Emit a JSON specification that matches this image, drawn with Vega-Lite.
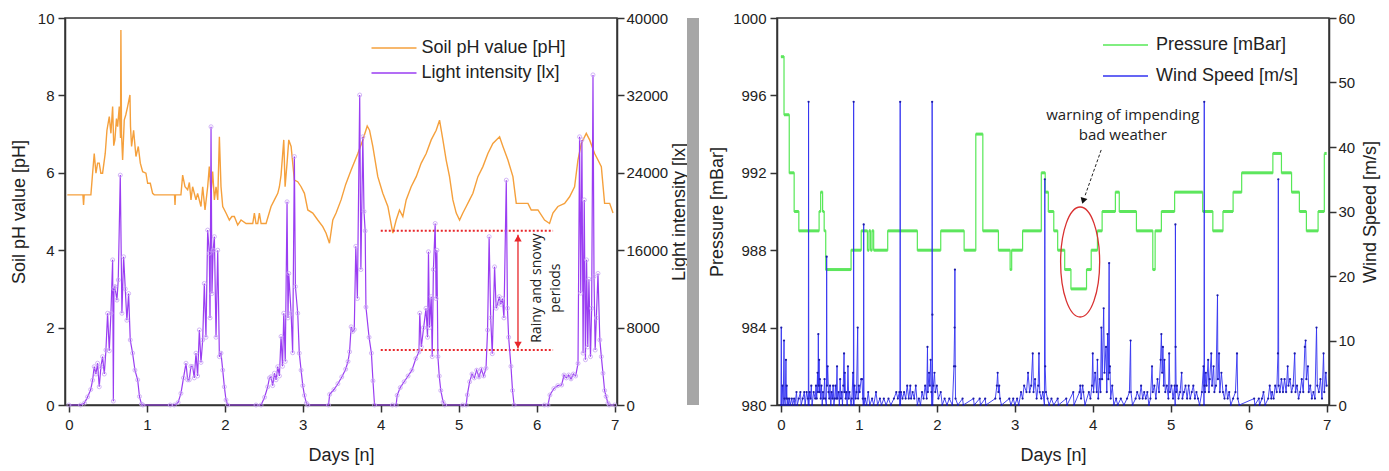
{
  "$schema": "https://vega.github.io/schema/vega-lite/v6.json",
  "background": "white",
  "padding": {"left": 9, "top": 10, "right": 5, "bottom": 5},
  "bounds": "flush",
  "spacing": 70,
  "resolve": {"scale": {"color": "independent", "x": "independent", "y": "independent"}, "legend": {"color": "independent"}},
  "config": {
    "font": "Liberation Sans",
    "view": {"stroke": "#333333", "strokeWidth": 1.5},
    "axis": {"grid": false, "domainColor": "#333333", "domainWidth": 1.5, "tickColor": "#333333", "tickWidth": 1.5, "tickSize": 7, "labelFont": "Liberation Sans", "labelFontSize": 15, "labelColor": "#222222", "titleFont": "Liberation Sans", "titleFontSize": 18, "titleColor": "#222222", "titleFontWeight": "normal", "labelFlush": false, "labelOverlap": false},
    "legend": {"labelFont": "Liberation Sans", "labelFontSize": 18, "labelColor": "#222222", "padding": 0, "symbolStrokeWidth": 1.5, "symbolType": "M-4.5,0H4.5", "symbolSize": 100}
  },
  "hconcat": [
    {
      "width": 552,
      "height": 387,
      "layer": [
        {
          "layer": [
            {
              "data": {"values": [
                {"day":-0.02,"ph":5.43},{"day":0.18,"ph":5.43},{"day":0.188,"ph":5.17},{"day":0.196,"ph":5.43},{"day":0.282,"ph":5.43},{"day":0.304,"ph":5.99},{"day":0.325,"ph":6.5},{"day":0.347,"ph":5.99},{"day":0.368,"ph":6.25},{"day":0.389,"ph":6.25},{"day":0.41,"ph":5.99},{"day":0.432,"ph":5.99},{"day":0.466,"ph":6.5},{"day":0.488,"ph":7.1},{"day":0.518,"ph":7.45},{"day":0.539,"ph":7.02},{"day":0.561,"ph":7.71},{"day":0.575,"ph":6.7},{"day":0.59,"ph":6.85},{"day":0.61,"ph":7.4},{"day":0.625,"ph":7.19},{"day":0.646,"ph":7.71},{"day":0.662,"ph":6.9},{"day":0.667,"ph":9.69},{"day":0.675,"ph":7.0},{"day":0.689,"ph":6.33},{"day":0.71,"ph":7.36},{"day":0.73,"ph":7.5},{"day":0.753,"ph":7.71},{"day":0.783,"ph":8.01},{"day":0.79,"ph":7.2},{"day":0.804,"ph":6.68},{"day":0.83,"ph":7.1},{"day":0.86,"ph":6.42},{"day":0.89,"ph":6.68},{"day":0.916,"ph":6.25},{"day":0.946,"ph":6.03},{"day":0.988,"ph":5.99},{"day":1.01,"ph":5.73},{"day":1.044,"ph":5.73},{"day":1.074,"ph":5.47},{"day":1.095,"ph":5.43},{"day":1.355,"ph":5.43},{"day":1.361,"ph":5.17},{"day":1.367,"ph":5.43},{"day":1.437,"ph":5.43},{"day":1.459,"ph":5.94},{"day":1.489,"ph":5.64},{"day":1.523,"ph":5.56},{"day":1.545,"ph":5.75},{"day":1.566,"ph":5.3},{"day":1.587,"ph":5.64},{"day":1.63,"ph":5.3},{"day":1.651,"ph":5.47},{"day":1.694,"ph":5.13},{"day":1.716,"ph":5.64},{"day":1.746,"ph":5.04},{"day":1.78,"ph":5.64},{"day":1.801,"ph":6.16},{"day":1.823,"ph":5.47},{"day":1.844,"ph":6.03},{"day":1.866,"ph":5.3},{"day":1.887,"ph":5.64},{"day":1.909,"ph":5.3},{"day":1.93,"ph":6.93},{"day":1.951,"ph":5.64},{"day":1.973,"ph":5.13},{"day":2.015,"ph":4.96},{"day":2.058,"ph":4.78},{"day":2.09,"ph":4.87},{"day":2.122,"ph":4.87},{"day":2.165,"ph":4.65},{"day":2.208,"ph":4.78},{"day":2.272,"ph":4.69},{"day":2.358,"ph":4.69},{"day":2.379,"ph":4.96},{"day":2.4,"ph":4.69},{"day":2.422,"ph":4.69},{"day":2.443,"ph":4.96},{"day":2.465,"ph":4.69},{"day":2.529,"ph":4.69},{"day":2.593,"ph":5.13},{"day":2.636,"ph":5.3},{"day":2.679,"ph":5.47},{"day":2.7,"ph":5.64},{"day":2.721,"ph":5.94},{"day":2.756,"ph":6.85},{"day":2.773,"ph":5.64},{"day":2.798,"ph":6.25},{"day":2.82,"ph":6.85},{"day":2.85,"ph":6.68},{"day":2.892,"ph":5.81},{"day":2.935,"ph":5.77},{"day":2.978,"ph":5.64},{"day":3.021,"ph":5.47},{"day":3.064,"ph":5.04},{"day":3.128,"ph":4.96},{"day":3.192,"ph":4.78},{"day":3.256,"ph":4.61},{"day":3.299,"ph":4.44},{"day":3.342,"ph":4.18},{"day":3.385,"ph":4.78},{"day":3.427,"ph":4.96},{"day":3.491,"ph":5.3},{"day":3.55,"ph":5.7},{"day":3.62,"ph":6.07},{"day":3.706,"ph":6.5},{"day":3.77,"ph":6.85},{"day":3.826,"ph":7.21},{"day":3.856,"ph":7.1},{"day":3.898,"ph":6.68},{"day":3.962,"ph":5.9},{"day":4.026,"ph":5.47},{"day":4.091,"ph":5.13},{"day":4.155,"ph":4.44},{"day":4.198,"ph":4.78},{"day":4.24,"ph":5.04},{"day":4.283,"ph":4.87},{"day":4.326,"ph":5.3},{"day":4.39,"ph":5.64},{"day":4.455,"ph":5.9},{"day":4.519,"ph":6.25},{"day":4.583,"ph":6.5},{"day":4.647,"ph":6.85},{"day":4.711,"ph":7.1},{"day":4.754,"ph":7.36},{"day":4.797,"ph":6.85},{"day":4.839,"ph":6.33},{"day":4.882,"ph":5.9},{"day":4.925,"ph":5.3},{"day":4.968,"ph":4.96},{"day":5.011,"ph":4.78},{"day":5.053,"ph":4.96},{"day":5.096,"ph":5.13},{"day":5.139,"ph":5.3},{"day":5.182,"ph":5.47},{"day":5.246,"ph":5.9},{"day":5.31,"ph":6.16},{"day":5.374,"ph":6.5},{"day":5.438,"ph":6.76},{"day":5.524,"ph":6.93},{"day":5.567,"ph":6.68},{"day":5.631,"ph":6.33},{"day":5.695,"ph":5.9},{"day":5.738,"ph":5.21},{"day":5.888,"ph":5.21},{"day":5.93,"ph":5.04},{"day":6.016,"ph":5.04},{"day":6.101,"ph":4.78},{"day":6.165,"ph":4.69},{"day":6.208,"ph":4.96},{"day":6.272,"ph":5.13},{"day":6.358,"ph":5.21},{"day":6.422,"ph":5.38},{"day":6.486,"ph":5.64},{"day":6.529,"ph":6.33},{"day":6.572,"ph":6.76},{"day":6.636,"ph":7.02},{"day":6.679,"ph":6.85},{"day":6.743,"ph":6.5},{"day":6.786,"ph":6.33},{"day":6.829,"ph":6.16},{"day":6.871,"ph":5.21},{"day":6.936,"ph":5.21},{"day":6.979,"ph":4.96}
              ]},
              "mark": {"type": "line", "strokeWidth": 1.4},
              "encoding": {
                "x": {"field": "day", "type": "quantitative", "scale": {"domain": [-0.05, 7.03], "nice": false, "zero": false},
                      "axis": {"title": "Days [n]", "values": [0,0.5,1,1.5,2,2.5,3,3.5,4,4.5,5,5.5,6,6.5,7], "format": "d", "labelExpr": "datum.value % 1 === 0 ? datum.label : ''", "labelPadding": 5, "titlePadding": 14}},
                "y": {"field": "ph", "type": "quantitative", "scale": {"domain": [0, 10], "nice": false},
                      "axis": {"orient": "left", "title": "Soil pH value [pH]", "values": [0,1,2,3,4,5,6,7,8,9,10], "labelExpr": "datum.value % 2 === 0 ? datum.label : ''", "labelPadding": 4, "titlePadding": 9}},
                "color": {"datum": "Soil pH value [pH]", "type": "nominal",
                          "scale": {"domain": ["Soil pH value [pH]", "Light intensity [lx]"], "range": ["#f5a03c", "#9a3df2"]},
                          "legend": {"orient": "none", "legendX": 320, "legendY": 21, "title": null, "labelOffset": 18.5, "rowPadding": 7}}
              }
            },
            {
              "data": {"values": [{}]},
              "mark": {"type": "rule", "color": "#e8262a", "strokeWidth": 2, "strokeDash": [2, 2]},
              "encoding": {"x": {"datum": 4.0}, "x2": {"datum": 6.21}, "y": {"datum": 4.5}}
            },
            {
              "data": {"values": [{}]},
              "mark": {"type": "rule", "color": "#e8262a", "strokeWidth": 2, "strokeDash": [2, 2]},
              "encoding": {"x": {"datum": 4.0}, "x2": {"datum": 6.21}, "y": {"datum": 1.42}}
            },
            {
              "data": {"values": [{}]},
              "mark": {"type": "rule", "color": "#e8262a", "strokeWidth": 1.3},
              "encoding": {"x": {"datum": 5.76}, "y": {"datum": 4.4}, "y2": {"datum": 1.46}}
            },
            {
              "data": {"values": [{}]},
              "mark": {"type": "point", "shape": "triangle-up", "filled": true, "color": "#e8262a", "size": 55, "opacity": 1},
              "encoding": {"x": {"datum": 5.76}, "y": {"datum": 4.31}}
            },
            {
              "data": {"values": [{}]},
              "mark": {"type": "point", "shape": "triangle-down", "filled": true, "color": "#e8262a", "size": 55, "opacity": 1},
              "encoding": {"x": {"datum": 5.76}, "y": {"datum": 1.55}}
            },
            {
              "data": {"values": [{}]},
              "mark": {"type": "text", "text": ["Rainy and snowy", "periods"], "font": "Open Sans", "fontSize": 14, "lineHeight": 19, "angle": 270, "align": "center", "baseline": "middle", "color": "#222222"},
              "encoding": {"x": {"datum": 6.0}, "y": {"datum": 3.02}}
            }
          ]
        },
        {
          "data": {"values": [
            {"day":0.0,"lux":0},{"day":0.15,"lux":0},{"day":0.2,"lux":200},{"day":0.24,"lux":840},{"day":0.28,"lux":1600},{"day":0.304,"lux":2560},{"day":0.325,"lux":3960},{"day":0.347,"lux":3200},{"day":0.368,"lux":4320},{"day":0.389,"lux":1880},{"day":0.411,"lux":3960},{"day":0.432,"lux":5000},{"day":0.454,"lux":3200},{"day":0.475,"lux":5680},{"day":0.496,"lux":9480},{"day":0.518,"lux":5600},{"day":0.539,"lux":9480},{"day":0.561,"lux":15000},{"day":0.57,"lux":400},{"day":0.578,"lux":12000},{"day":0.59,"lux":12240},{"day":0.616,"lux":10840},{"day":0.633,"lux":12920},{"day":0.659,"lux":23760},{"day":0.68,"lux":9480},{"day":0.702,"lux":15320},{"day":0.723,"lux":12000},{"day":0.744,"lux":8760},{"day":0.766,"lux":11520},{"day":0.787,"lux":6720},{"day":0.817,"lux":5360},{"day":0.847,"lux":3600},{"day":0.882,"lux":2600},{"day":0.905,"lux":880},{"day":0.93,"lux":100},{"day":0.95,"lux":0},
            {"day":1.3,"lux":0},{"day":1.352,"lux":0},{"day":1.4,"lux":250},{"day":1.437,"lux":1200},{"day":1.47,"lux":2800},{"day":1.502,"lux":4320},{"day":1.523,"lux":2600},{"day":1.544,"lux":2600},{"day":1.565,"lux":4000},{"day":1.587,"lux":3960},{"day":1.608,"lux":2800},{"day":1.63,"lux":5360},{"day":1.651,"lux":3000},{"day":1.673,"lux":7760},{"day":1.694,"lux":4400},{"day":1.716,"lux":6720},{"day":1.737,"lux":12560},{"day":1.758,"lux":7000},{"day":1.78,"lux":18080},{"day":1.801,"lux":15680},{"day":1.81,"lux":9000},{"day":1.823,"lux":28760},{"day":1.835,"lux":11520},{"day":1.85,"lux":16000},{"day":1.866,"lux":17400},{"day":1.887,"lux":7000},{"day":1.909,"lux":16000},{"day":1.93,"lux":5000},{"day":1.951,"lux":5360},{"day":1.973,"lux":3600},{"day":1.994,"lux":1880},{"day":2.015,"lux":520},{"day":2.036,"lux":0},
            {"day":2.4,"lux":0},{"day":2.465,"lux":0},{"day":2.51,"lux":800},{"day":2.55,"lux":1880},{"day":2.572,"lux":2800},{"day":2.593,"lux":2920},{"day":2.614,"lux":2000},{"day":2.636,"lux":3280},{"day":2.657,"lux":2600},{"day":2.679,"lux":3960},{"day":2.7,"lux":3000},{"day":2.721,"lux":7080},{"day":2.74,"lux":4000},{"day":2.756,"lux":9480},{"day":2.775,"lux":4500},{"day":2.798,"lux":21000},{"day":2.81,"lux":9000},{"day":2.82,"lux":13600},{"day":2.85,"lux":9480},{"day":2.87,"lux":5400},{"day":2.892,"lux":25680},{"day":2.905,"lux":12240},{"day":2.935,"lux":9480},{"day":2.955,"lux":5360},{"day":2.978,"lux":3600},{"day":3.0,"lux":2000},{"day":3.021,"lux":1000},{"day":3.045,"lux":200},{"day":3.064,"lux":0},
            {"day":3.33,"lux":0},{"day":3.345,"lux":1100},{"day":3.4,"lux":1600},{"day":3.45,"lux":2200},{"day":3.5,"lux":2900},{"day":3.55,"lux":3700},{"day":3.58,"lux":4500},{"day":3.6,"lux":5500},{"day":3.62,"lux":8080},{"day":3.64,"lux":7600},{"day":3.66,"lux":7800},{"day":3.68,"lux":16400},{"day":3.7,"lux":11000},{"day":3.73,"lux":32040},{"day":3.745,"lux":14000},{"day":3.77,"lux":27720},{"day":3.785,"lux":20000},{"day":3.8,"lux":18000},{"day":3.81,"lux":10120},{"day":3.85,"lux":7000},{"day":3.88,"lux":5360},{"day":3.9,"lux":2500},{"day":3.92,"lux":0},
            {"day":4.15,"lux":0},{"day":4.198,"lux":0},{"day":4.21,"lux":1000},{"day":4.25,"lux":1800},{"day":4.3,"lux":2400},{"day":4.35,"lux":3000},{"day":4.4,"lux":3600},{"day":4.45,"lux":4800},{"day":4.49,"lux":5480},{"day":4.5,"lux":9500},{"day":4.52,"lux":6000},{"day":4.55,"lux":8000},{"day":4.58,"lux":10000},{"day":4.6,"lux":7000},{"day":4.612,"lux":15840},{"day":4.625,"lux":8000},{"day":4.647,"lux":11200},{"day":4.66,"lux":5000},{"day":4.675,"lux":14000},{"day":4.698,"lux":18760},{"day":4.71,"lux":11000},{"day":4.72,"lux":16000},{"day":4.733,"lux":5000},{"day":4.75,"lux":3000},{"day":4.77,"lux":1500},{"day":4.8,"lux":300},{"day":4.82,"lux":0},
            {"day":5.05,"lux":0},{"day":5.096,"lux":0},{"day":5.11,"lux":1040},{"day":5.14,"lux":2400},{"day":5.17,"lux":3200},{"day":5.2,"lux":2800},{"day":5.23,"lux":3600},{"day":5.26,"lux":2900},{"day":5.29,"lux":3700},{"day":5.32,"lux":3000},{"day":5.35,"lux":3800},{"day":5.37,"lux":7750},{"day":5.39,"lux":17400},{"day":5.41,"lux":9000},{"day":5.43,"lux":5300},{"day":5.46,"lux":14280},{"day":5.48,"lux":10000},{"day":5.5,"lux":10500},{"day":5.52,"lux":11200},{"day":5.54,"lux":10400},{"day":5.56,"lux":11000},{"day":5.58,"lux":9000},{"day":5.61,"lux":23240},{"day":5.625,"lux":10000},{"day":5.64,"lux":7000},{"day":5.67,"lux":4000},{"day":5.69,"lux":1500},{"day":5.71,"lux":0},
            {"day":6.1,"lux":0},{"day":6.145,"lux":0},{"day":6.17,"lux":1040},{"day":6.22,"lux":1700},{"day":6.27,"lux":2000},{"day":6.32,"lux":2070},{"day":6.35,"lux":3100},{"day":6.38,"lux":2800},{"day":6.41,"lux":3100},{"day":6.44,"lux":2700},{"day":6.47,"lux":3200},{"day":6.5,"lux":3000},{"day":6.53,"lux":4300},{"day":6.55,"lux":27720},{"day":6.565,"lux":11560},{"day":6.58,"lux":27400},{"day":6.595,"lux":5360},{"day":6.61,"lux":21200},{"day":6.625,"lux":4680},{"day":6.64,"lux":15000},{"day":6.655,"lux":6000},{"day":6.67,"lux":13000},{"day":6.69,"lux":5000},{"day":6.705,"lux":10000},{"day":6.722,"lux":34120},{"day":6.735,"lux":13280},{"day":6.75,"lux":5680},{"day":6.765,"lux":9000},{"day":6.786,"lux":13600},{"day":6.81,"lux":6720},{"day":6.829,"lux":5000},{"day":6.85,"lux":3280},{"day":6.871,"lux":1500},{"day":6.89,"lux":880},{"day":6.914,"lux":200},{"day":6.93,"lux":0},{"day":7.0,"lux":0}
          ]},
          "layer": [
            {
              "mark": {"type": "line", "strokeWidth": 1.2},
              "encoding": {
                "x": {"field": "day", "type": "quantitative"},
                "y": {"field": "lux", "type": "quantitative", "scale": {"domain": [0, 40000], "nice": false},
                      "axis": {"orient": "right", "title": "Light intensity [lx]", "values": [0,4000,8000,12000,16000,20000,24000,28000,32000,36000,40000], "format": "d", "labelExpr": "datum.value % 8000 === 0 ? datum.label : ''", "labelPadding": 2, "titlePadding": 3, "titleAngle": -90, "titleBaseline": "top"}},
                "color": {"datum": "Light intensity [lx]", "type": "nominal"}
              }
            },
            {
              "mark": {"type": "point", "filled": false, "size": 16, "strokeWidth": 0.9, "color": "#c9a6f5", "opacity": 0.9},
              "encoding": {
                "x": {"field": "day", "type": "quantitative"},
                "y": {"field": "lux", "type": "quantitative"}
              }
            }
          ]
        }
      ],
      "resolve": {"scale": {"y": "independent"}}
    },
    {
      "bounds": "flush",
      "spacing": 78,
      "resolve": {"scale": {"color": "independent", "x": "independent", "y": "independent"}, "legend": {"color": "independent"}},
      "hconcat": [
        {
          "width": 12,
          "height": 387,
          "data": {"values": [{}]},
          "mark": {"type": "text"},
          "encoding": {"text": {"value": ""}},
          "view": {"fill": "#a6a6a6", "stroke": null}
        },
        {
          "width": 552,
          "height": 387,
          "layer": [
            {
              "layer": [
                {
                  "data": {"values": [
                    {"t0":0,"t1":0.04,"p":998},{"t0":0.04,"t1":0.107,"p":995},{"t0":0.107,"t1":0.17,"p":992},{"t0":0.17,"t1":0.23,"p":990},{"t0":0.23,"t1":0.49,"p":989},{"t0":0.49,"t1":0.51,"p":990},{"t0":0.51,"t1":0.535,"p":991},{"t0":0.535,"t1":0.555,"p":990},{"t0":0.555,"t1":0.575,"p":989},{"t0":0.575,"t1":0.9,"p":987},{"t0":0.9,"t1":1.03,"p":988},{"t0":1.03,"t1":1.11,"p":989},{"t0":1.11,"t1":1.13,"p":988},{"t0":1.13,"t1":1.15,"p":989},{"t0":1.15,"t1":1.17,"p":988},{"t0":1.17,"t1":1.19,"p":989},{"t0":1.19,"t1":1.37,"p":988},{"t0":1.37,"t1":1.75,"p":989},{"t0":1.75,"t1":2.05,"p":988},{"t0":2.05,"t1":2.35,"p":989},{"t0":2.35,"t1":2.5,"p":988},{"t0":2.5,"t1":2.59,"p":994},{"t0":2.59,"t1":2.79,"p":989},{"t0":2.79,"t1":2.94,"p":988},{"t0":2.94,"t1":2.96,"p":987},{"t0":2.96,"t1":3.1,"p":988},{"t0":3.1,"t1":3.34,"p":989},{"t0":3.34,"t1":3.39,"p":992},{"t0":3.39,"t1":3.43,"p":991},{"t0":3.43,"t1":3.5,"p":990},{"t0":3.5,"t1":3.55,"p":989},{"t0":3.55,"t1":3.64,"p":988},{"t0":3.64,"t1":3.72,"p":987},{"t0":3.72,"t1":3.92,"p":986},{"t0":3.92,"t1":3.98,"p":987},{"t0":3.98,"t1":4.06,"p":988},{"t0":4.06,"t1":4.12,"p":989},{"t0":4.12,"t1":4.29,"p":990},{"t0":4.29,"t1":4.34,"p":991},{"t0":4.34,"t1":4.56,"p":990},{"t0":4.56,"t1":4.77,"p":989},{"t0":4.77,"t1":4.8,"p":987},{"t0":4.8,"t1":4.88,"p":989},{"t0":4.88,"t1":5.05,"p":990},{"t0":5.05,"t1":5.41,"p":991},{"t0":5.41,"t1":5.54,"p":990},{"t0":5.54,"t1":5.67,"p":989},{"t0":5.67,"t1":5.8,"p":990},{"t0":5.8,"t1":5.91,"p":991},{"t0":5.91,"t1":6.31,"p":992},{"t0":6.31,"t1":6.42,"p":993},{"t0":6.42,"t1":6.55,"p":992},{"t0":6.55,"t1":6.65,"p":991},{"t0":6.65,"t1":6.74,"p":990},{"t0":6.74,"t1":6.89,"p":989},{"t0":6.89,"t1":6.97,"p":990},{"t0":6.97,"t1":7.0,"p":993}
                  ]},
                  "layer": [
                    {
                      "mark": {"type": "line", "interpolate": "step-after", "strokeWidth": 1.2},
                      "encoding": {
                        "x": {"field": "t0", "type": "quantitative", "scale": {"domain": [-0.05, 7.03], "nice": false, "zero": false},
                              "axis": {"title": "Days [n]", "values": [0,0.5,1,1.5,2,2.5,3,3.5,4,4.5,5,5.5,6,6.5,7], "format": "d", "labelExpr": "datum.value % 1 === 0 ? datum.label : ''", "labelPadding": 5, "titlePadding": 14}},
                        "y": {"field": "p", "type": "quantitative", "scale": {"domain": [980, 1000], "nice": false, "zero": false},
                              "axis": {"orient": "left", "title": "Pressure [mBar]", "values": [980,982,984,986,988,990,992,994,996,998,1000], "format": "d", "labelExpr": "(datum.value - 980) % 4 === 0 ? datum.label : ''", "labelPadding": 4, "titlePadding": 6}},
                        "color": {"datum": "Pressure [mBar]", "type": "nominal",
                                  "scale": {"domain": ["Pressure [mBar]", "Wind Speed [m/s]"], "range": ["#57e857", "#3232f0"]},
                                  "legend": {"orient": "none", "legendX": 339.5, "legendY": 18, "title": null, "labelOffset": 21.5, "rowPadding": 13}}
                      }
                    },
                    {
                      "mark": {"type": "rule", "strokeWidth": 3, "color": "#5de65d"},
                      "encoding": {
                        "x": {"field": "t0", "type": "quantitative"},
                        "x2": {"field": "t1"},
                        "y": {"field": "p", "type": "quantitative"}
                      }
                    }
                  ]
                },
                {
                  "data": {"values": [{}]},
                  "mark": {"type": "point", "shape": "M0,-1A0.355,1 0 1 1 0,1A0.355,1 0 1 1 0,-1Z", "filled": false, "size": 12100, "color": "#d93030", "strokeWidth": 1.3, "opacity": 1},
                  "encoding": {"x": {"datum": 3.838}, "y": {"datum": 987.39}}
                },
                {
                  "data": {"values": [{}]},
                  "mark": {"type": "rule", "color": "#222222", "strokeWidth": 1, "strokeDash": [3, 2]},
                  "encoding": {"x": {"datum": 4.108}, "y": {"datum": 993.18}, "x2": {"datum": 3.895}, "y2": {"datum": 990.75}}
                },
                {
                  "data": {"values": [{}]},
                  "mark": {"type": "point", "shape": "triangle-down", "filled": true, "color": "#111111", "size": 50, "angle": 17, "opacity": 1},
                  "encoding": {"x": {"datum": 3.877}, "y": {"datum": 990.55}}
                },
                {
                  "data": {"values": [{}]},
                  "mark": {"type": "text", "text": ["warning of impending", "bad weather"], "font": "Open Sans", "fontSize": 15, "lineHeight": 20, "align": "center", "baseline": "middle", "color": "#222222"},
                  "encoding": {"x": {"datum": 4.385}, "y": {"datum": 995.0}}
                }
              ]
            },
            {
              "data": {"values": [
                {"day":0,"wind":0},{"day":0.005,"wind":12},{"day":0.01,"wind":0},{"day":0.02,"wind":3},{"day":0.03,"wind":0},{"day":0.04,"wind":10},{"day":0.045,"wind":1},{"day":0.055,"wind":0},{"day":0.065,"wind":7},{"day":0.07,"wind":1},{"day":0.075,"wind":3},{"day":0.08,"wind":0},{"day":0.09,"wind":1},{"day":0.1,"wind":0},{"day":0.11,"wind":1},{"day":0.12,"wind":0},{"day":0.14,"wind":1},{"day":0.15,"wind":0},{"day":0.17,"wind":1},{"day":0.18,"wind":0},{"day":0.2,"wind":2},{"day":0.21,"wind":0},{"day":0.23,"wind":1},{"day":0.25,"wind":2},{"day":0.26,"wind":0},{"day":0.28,"wind":1},{"day":0.3,"wind":2},{"day":0.31,"wind":0},{"day":0.33,"wind":2},{"day":0.345,"wind":1},{"day":0.352,"wind":0},{"day":0.355,"wind":47},{"day":0.358,"wind":0},{"day":0.37,"wind":2},{"day":0.38,"wind":1},{"day":0.39,"wind":3},{"day":0.4,"wind":0},{"day":0.42,"wind":2},{"day":0.44,"wind":1},{"day":0.45,"wind":3},{"day":0.46,"wind":1},{"day":0.47,"wind":5},{"day":0.475,"wind":2},{"day":0.48,"wind":11},{"day":0.485,"wind":3},{"day":0.49,"wind":7},{"day":0.495,"wind":2},{"day":0.5,"wind":4},{"day":0.51,"wind":1},{"day":0.52,"wind":3},{"day":0.53,"wind":0},{"day":0.54,"wind":2},{"day":0.55,"wind":1},{"day":0.56,"wind":4},{"day":0.57,"wind":1},{"day":0.583,"wind":0},{"day":0.587,"wind":23},{"day":0.591,"wind":3},{"day":0.6,"wind":6},{"day":0.61,"wind":2},{"day":0.62,"wind":1},{"day":0.63,"wind":3},{"day":0.64,"wind":0},{"day":0.65,"wind":2},{"day":0.66,"wind":1},{"day":0.67,"wind":3},{"day":0.68,"wind":0},{"day":0.69,"wind":1},{"day":0.7,"wind":3},{"day":0.71,"wind":1},{"day":0.72,"wind":6},{"day":0.725,"wind":1},{"day":0.74,"wind":2},{"day":0.75,"wind":0},{"day":0.76,"wind":4},{"day":0.77,"wind":1},{"day":0.78,"wind":2},{"day":0.79,"wind":0},{"day":0.8,"wind":3},{"day":0.81,"wind":8},{"day":0.815,"wind":2},{"day":0.82,"wind":5},{"day":0.83,"wind":1},{"day":0.84,"wind":2},{"day":0.85,"wind":0},{"day":0.86,"wind":6},{"day":0.87,"wind":1},{"day":0.88,"wind":2},{"day":0.9,"wind":0},{"day":0.91,"wind":1},{"day":0.925,"wind":5},{"day":0.93,"wind":0},{"day":0.933,"wind":47},{"day":0.936,"wind":0},{"day":0.945,"wind":3},{"day":0.96,"wind":1},{"day":0.97,"wind":2},{"day":0.985,"wind":12},{"day":0.99,"wind":1},{"day":1.0,"wind":3},{"day":1.01,"wind":2},{"day":1.03,"wind":4},{"day":1.04,"wind":4},{"day":1.05,"wind":1},{"day":1.058,"wind":0},{"day":1.062,"wind":28},{"day":1.066,"wind":0},{"day":1.08,"wind":1},{"day":1.1,"wind":0},{"day":1.12,"wind":2},{"day":1.14,"wind":0},{"day":1.17,"wind":1},{"day":1.19,"wind":0},{"day":1.22,"wind":2},{"day":1.24,"wind":0},{"day":1.27,"wind":1},{"day":1.29,"wind":0},{"day":1.32,"wind":1},{"day":1.35,"wind":0},{"day":1.38,"wind":1},{"day":1.41,"wind":0},{"day":1.45,"wind":1},{"day":1.48,"wind":2},{"day":1.5,"wind":1},{"day":1.52,"wind":2},{"day":1.527,"wind":0},{"day":1.53,"wind":47},{"day":1.533,"wind":0},{"day":1.54,"wind":2},{"day":1.56,"wind":1},{"day":1.58,"wind":2},{"day":1.6,"wind":1},{"day":1.62,"wind":3},{"day":1.64,"wind":1},{"day":1.66,"wind":3},{"day":1.67,"wind":1},{"day":1.69,"wind":2},{"day":1.71,"wind":1},{"day":1.73,"wind":3},{"day":1.75,"wind":0},{"day":1.77,"wind":1},{"day":1.79,"wind":0},{"day":1.81,"wind":2},{"day":1.83,"wind":1},{"day":1.85,"wind":3},{"day":1.87,"wind":1},{"day":1.88,"wind":9},{"day":1.885,"wind":2},{"day":1.9,"wind":5},{"day":1.91,"wind":3},{"day":1.92,"wind":7},{"day":1.93,"wind":2},{"day":1.937,"wind":0},{"day":1.94,"wind":47},{"day":1.943,"wind":14},{"day":1.946,"wind":0},{"day":1.955,"wind":3},{"day":1.97,"wind":5},{"day":1.98,"wind":2},{"day":2.0,"wind":3},{"day":2.02,"wind":1},{"day":2.05,"wind":2},{"day":2.07,"wind":0},{"day":2.1,"wind":1},{"day":2.13,"wind":0},{"day":2.16,"wind":1},{"day":2.2,"wind":0},{"day":2.22,"wind":6},{"day":2.228,"wind":12},{"day":2.232,"wind":21},{"day":2.236,"wind":6},{"day":2.24,"wind":1},{"day":2.27,"wind":0},{"day":2.33,"wind":1},{"day":2.34,"wind":0},{"day":2.47,"wind":1},{"day":2.48,"wind":0},{"day":2.55,"wind":1},{"day":2.56,"wind":0},{"day":2.62,"wind":1},{"day":2.63,"wind":0},{"day":2.75,"wind":1},{"day":2.77,"wind":3},{"day":2.78,"wind":5},{"day":2.79,"wind":2},{"day":2.8,"wind":3},{"day":2.81,"wind":1},{"day":2.83,"wind":0},{"day":2.93,"wind":1},{"day":2.95,"wind":0},{"day":2.98,"wind":1},{"day":3.0,"wind":0},{"day":3.03,"wind":1},{"day":3.05,"wind":0},{"day":3.08,"wind":2},{"day":3.1,"wind":1},{"day":3.12,"wind":3},{"day":3.15,"wind":2},{"day":3.17,"wind":5},{"day":3.19,"wind":2},{"day":3.21,"wind":3},{"day":3.23,"wind":8},{"day":3.24,"wind":2},{"day":3.26,"wind":4},{"day":3.28,"wind":1},{"day":3.3,"wind":3},{"day":3.31,"wind":8},{"day":3.32,"wind":2},{"day":3.34,"wind":1},{"day":3.36,"wind":2},{"day":3.38,"wind":0},{"day":3.385,"wind":35},{"day":3.39,"wind":6},{"day":3.4,"wind":2},{"day":3.42,"wind":1},{"day":3.44,"wind":0},{"day":3.47,"wind":1},{"day":3.5,"wind":0},{"day":3.55,"wind":1},{"day":3.56,"wind":0},{"day":3.66,"wind":1},{"day":3.67,"wind":0},{"day":3.75,"wind":2},{"day":3.76,"wind":0},{"day":3.83,"wind":2},{"day":3.84,"wind":3},{"day":3.85,"wind":1},{"day":3.87,"wind":3},{"day":3.88,"wind":2},{"day":3.9,"wind":0},{"day":3.95,"wind":2},{"day":3.97,"wind":1},{"day":3.99,"wind":3},{"day":4.0,"wind":8},{"day":4.01,"wind":2},{"day":4.03,"wind":5},{"day":4.05,"wind":2},{"day":4.06,"wind":7},{"day":4.07,"wind":1},{"day":4.09,"wind":4},{"day":4.1,"wind":2},{"day":4.11,"wind":12},{"day":4.12,"wind":4},{"day":4.14,"wind":15},{"day":4.15,"wind":5},{"day":4.17,"wind":9},{"day":4.18,"wind":2},{"day":4.19,"wind":11},{"day":4.2,"wind":4},{"day":4.21,"wind":22},{"day":4.215,"wind":5},{"day":4.22,"wind":6},{"day":4.23,"wind":1},{"day":4.25,"wind":3},{"day":4.27,"wind":0},{"day":4.3,"wind":1},{"day":4.32,"wind":0},{"day":4.36,"wind":1},{"day":4.4,"wind":0},{"day":4.44,"wind":1},{"day":4.47,"wind":2},{"day":4.485,"wind":10},{"day":4.49,"wind":2},{"day":4.51,"wind":0},{"day":4.55,"wind":1},{"day":4.57,"wind":2},{"day":4.6,"wind":1},{"day":4.62,"wind":3},{"day":4.64,"wind":1},{"day":4.66,"wind":2},{"day":4.68,"wind":1},{"day":4.7,"wind":2},{"day":4.72,"wind":0},{"day":4.74,"wind":1},{"day":4.76,"wind":6},{"day":4.77,"wind":2},{"day":4.79,"wind":3},{"day":4.81,"wind":1},{"day":4.83,"wind":4},{"day":4.85,"wind":2},{"day":4.87,"wind":7},{"day":4.88,"wind":11},{"day":4.89,"wind":5},{"day":4.9,"wind":9},{"day":4.91,"wind":3},{"day":4.92,"wind":7},{"day":4.93,"wind":2},{"day":4.95,"wind":3},{"day":4.97,"wind":1},{"day":4.98,"wind":8},{"day":4.99,"wind":2},{"day":5.01,"wind":3},{"day":5.03,"wind":1},{"day":5.05,"wind":3},{"day":5.057,"wind":0},{"day":5.06,"wind":28},{"day":5.063,"wind":9},{"day":5.07,"wind":2},{"day":5.08,"wind":3},{"day":5.1,"wind":1},{"day":5.12,"wind":2},{"day":5.14,"wind":5},{"day":5.15,"wind":1},{"day":5.17,"wind":2},{"day":5.19,"wind":3},{"day":5.21,"wind":1},{"day":5.23,"wind":3},{"day":5.25,"wind":1},{"day":5.27,"wind":2},{"day":5.29,"wind":3},{"day":5.31,"wind":1},{"day":5.33,"wind":2},{"day":5.35,"wind":1},{"day":5.37,"wind":0},{"day":5.4,"wind":2},{"day":5.42,"wind":6},{"day":5.427,"wind":0},{"day":5.43,"wind":47},{"day":5.433,"wind":3},{"day":5.44,"wind":2},{"day":5.45,"wind":5},{"day":5.46,"wind":3},{"day":5.48,"wind":7},{"day":5.49,"wind":2},{"day":5.5,"wind":4},{"day":5.52,"wind":8},{"day":5.53,"wind":3},{"day":5.55,"wind":6},{"day":5.56,"wind":2},{"day":5.58,"wind":3},{"day":5.6,"wind":17},{"day":5.605,"wind":4},{"day":5.62,"wind":8},{"day":5.63,"wind":2},{"day":5.65,"wind":5},{"day":5.67,"wind":2},{"day":5.69,"wind":1},{"day":5.71,"wind":3},{"day":5.73,"wind":1},{"day":5.75,"wind":2},{"day":5.77,"wind":0},{"day":5.8,"wind":1},{"day":5.83,"wind":2},{"day":5.85,"wind":8},{"day":5.86,"wind":1},{"day":5.88,"wind":0},{"day":6.07,"wind":1},{"day":6.08,"wind":0},{"day":6.13,"wind":1},{"day":6.14,"wind":0},{"day":6.17,"wind":1},{"day":6.19,"wind":2},{"day":6.21,"wind":0},{"day":6.25,"wind":1},{"day":6.27,"wind":3},{"day":6.29,"wind":1},{"day":6.3,"wind":2},{"day":6.32,"wind":1},{"day":6.34,"wind":3},{"day":6.36,"wind":2},{"day":6.375,"wind":8},{"day":6.38,"wind":35},{"day":6.385,"wind":3},{"day":6.4,"wind":2},{"day":6.42,"wind":4},{"day":6.44,"wind":2},{"day":6.46,"wind":4},{"day":6.48,"wind":2},{"day":6.5,"wind":6},{"day":6.51,"wind":3},{"day":6.53,"wind":4},{"day":6.55,"wind":2},{"day":6.57,"wind":3},{"day":6.59,"wind":8},{"day":6.6,"wind":2},{"day":6.62,"wind":3},{"day":6.64,"wind":1},{"day":6.66,"wind":2},{"day":6.68,"wind":4},{"day":6.7,"wind":2},{"day":6.72,"wind":9},{"day":6.73,"wind":10},{"day":6.74,"wind":4},{"day":6.76,"wind":6},{"day":6.77,"wind":2},{"day":6.79,"wind":3},{"day":6.81,"wind":1},{"day":6.83,"wind":2},{"day":6.85,"wind":1},{"day":6.87,"wind":12},{"day":6.88,"wind":3},{"day":6.9,"wind":2},{"day":6.92,"wind":4},{"day":6.94,"wind":1},{"day":6.96,"wind":8},{"day":6.97,"wind":2},{"day":6.99,"wind":5},{"day":7.0,"wind":3}
              ]},
              "layer": [
                {
                  "mark": {"type": "line", "strokeWidth": 0.9},
                  "encoding": {
                    "x": {"field": "day", "type": "quantitative"},
                    "y": {"field": "wind", "type": "quantitative", "scale": {"domain": [0, 60], "nice": false},
                          "axis": {"orient": "right", "title": "Wind Speed [m/s]", "values": [0,5,10,15,20,25,30,35,40,45,50,55,60], "labelExpr": "datum.value % 10 === 0 ? datum.label : ''", "labelPadding": 2, "titlePadding": 7, "titleAngle": -90, "titleBaseline": "top"}},
                    "color": {"datum": "Wind Speed [m/s]", "type": "nominal"}
                  }
                },
                {
                  "mark": {"type": "point", "filled": true, "size": 5, "color": "#1c1ca8", "opacity": 1},
                  "encoding": {
                    "x": {"field": "day", "type": "quantitative"},
                    "y": {"field": "wind", "type": "quantitative"}
                  }
                }
              ]
            }
          ],
          "resolve": {"scale": {"y": "independent"}}
        }
      ]
    }
  ]
}
